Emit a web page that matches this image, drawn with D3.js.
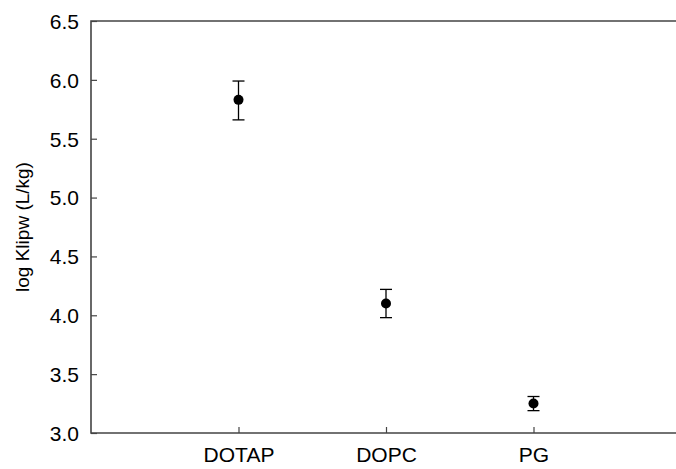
<!DOCTYPE html>
<html>
<head>
<meta charset="utf-8">
<script src="https://cdn.jsdelivr.net/npm/d3@7"></script>
<style>
body { margin: 0; background: #fff; }
text { font-family: "Liberation Sans", Arial, sans-serif; fill: #000; }
</style>
</head>
<body>
<svg id="chart" width="676" height="469"></svg>
<script>
// data
var categories = ["DOTAP", "DOPC", "PG"];
var means = [5.83, 4.10, 3.25];
var errHigh = [5.99, 4.22, 3.31];
var errLow = [5.66, 3.98, 3.19];
var yTicks = [3.0, 3.5, 4.0, 4.5, 5.0, 5.5, 6.0, 6.5];

var svg = d3.select('#chart'),
    margin = {top: 21, left: 91, bottom: 36},
    width = 590,
    height = +svg.attr("height") - margin.top - margin.bottom,
    g = svg.append("g").attr("transform", "translate(" + margin.left + "," + margin.top + ")");

var x = d3.scaleLinear().domain([0, 4]).range([0, width]);
var y = d3.scaleLinear().domain([3, 6.5]).range([height, 0]);

var axisColor = "#444";

// y axis, ticks pointing in
var yAxis = g.append("g")
    .call(d3.axisLeft(y).tickValues(yTicks).tickSize(-6).tickPadding(12).tickFormat(d3.format(".1f")));
yAxis.select(".domain").remove();
yAxis.selectAll("line").attr("stroke", axisColor).attr("stroke-width", 1.2);
yAxis.selectAll("text").attr("font-size", 21).attr("dy", "0.35em");

// x axis, ticks pointing in
var xAxis = g.append("g")
    .attr("transform", "translate(0," + height + ")")
    .call(d3.axisBottom(x).tickValues([1, 2, 3]).tickSize(-6).tickPadding(14)
        .tickFormat(function(d) { return categories[d - 1]; }));
xAxis.select(".domain").remove();
xAxis.selectAll("line").attr("stroke", axisColor).attr("stroke-width", 1.2);
xAxis.selectAll("text").attr("font-size", 21).attr("dy", "0.71em");

// frame: left, bottom, top
g.append("path")
    .attr("d", "M" + width + ",0H0V" + height + "H" + width)
    .attr("fill", "none")
    .attr("stroke", axisColor)
    .attr("stroke-width", 1.6);

// y label
svg.append("text")
    .attr("transform", "translate(29," + (margin.top + y(4.75)) + ") rotate(-90)")
    .attr("text-anchor", "middle")
    .attr("font-size", 19)
    .text("log Klipw (L/kg)");

var pts = categories.map(function(c, i) {
    return {i: i + 1, m: means[i], hi: errHigh[i], lo: errLow[i]};
});

// error bars
var eb = g.selectAll(".err").data(pts).enter().append("g").attr("class", "err")
    .attr("stroke", "#000").attr("stroke-width", 1.3);
eb.append("line")
    .attr("x1", function(d) { return x(d.i); })
    .attr("x2", function(d) { return x(d.i); })
    .attr("y1", function(d) { return y(d.hi); })
    .attr("y2", function(d) { return y(d.lo); });
eb.append("line")
    .attr("x1", function(d) { return x(d.i) - 6; })
    .attr("x2", function(d) { return x(d.i) + 6; })
    .attr("y1", function(d) { return y(d.hi); })
    .attr("y2", function(d) { return y(d.hi); });
eb.append("line")
    .attr("x1", function(d) { return x(d.i) - 6; })
    .attr("x2", function(d) { return x(d.i) + 6; })
    .attr("y1", function(d) { return y(d.lo); })
    .attr("y2", function(d) { return y(d.lo); });

// points
g.selectAll(".dot").data(pts).enter().append("circle")
    .attr("class", "dot")
    .attr("cx", function(d) { return x(d.i); })
    .attr("cy", function(d) { return y(d.m); })
    .attr("r", 5)
    .attr("fill", "#000");
</script>
</body>
</html>
